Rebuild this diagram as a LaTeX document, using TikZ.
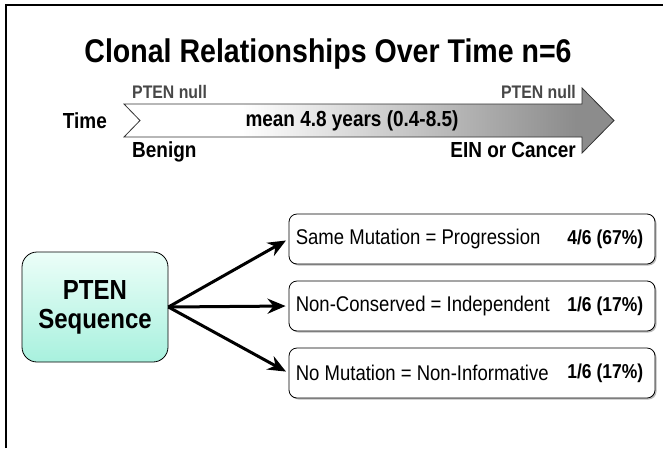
\documentclass[tikz,border=0pt]{standalone}
\usepackage{fontspec}
\setmainfont[FakeStretch=0.87]{Liberation Sans}
\usetikzlibrary{arrows.meta,positioning,shadows}

\pgfdeclarehorizontalshading{timefade}{100bp}{color(0bp)=(white); color(37bp)=(white); color(71bp)=(black!45); color(100bp)=(black!45)}

\tikzset{
  frameline/.style={line width=2.2pt},
  timetext/.style={font=\fontsize{21.8}{24}\selectfont\bfseries, inner sep=0pt},
  nulltext/.style={font=\fontsize{18.2}{20}\selectfont\bfseries, text=black!72, inner sep=0pt},
  resbox/.style={draw, line width=0.8pt, rounded corners=8pt, fill=white,
    minimum width=366pt, minimum height=50pt,
    drop shadow={shadow xshift=1.5pt, shadow yshift=-1.5pt, fill=black!45, opacity=.6}},
  restext/.style={font=\fontsize{21.3}{23}\selectfont, inner sep=0pt},
  resnum/.style={font=\fontsize{20.1}{22}\selectfont\bfseries, inner sep=0pt},
  fork/.style={line width=3pt, -{Stealth[length=18pt,width=15pt]}, shorten >=3pt}
}

\begin{document}
\begin{tikzpicture}[x=1pt,y=-1pt]
    \useasboundingbox (0,0) rectangle (663,448);
    \draw [frameline] (6,448) -- (6,5) -- (663,5);

    \node [font=\fontsize{32.8}{36}\selectfont\bfseries, anchor=base] (title) at (328,62) {Clonal Relationships Over Time n=6};

    % time arrow
    \path [draw=black!80, line width=0.8pt, shading=timefade]
      (124,104) -- (582,104) -- (582,88) -- (614,120.5) -- (582,153) -- (582,137) -- (124,137) -- (140,120.5) -- cycle;
    \node [timetext, anchor=east] (time) at (107,121) {Time};
    \node [timetext] (mean) at (352,121) {mean 4.8 years (0.4-8.5)};
    \node [nulltext, anchor=base west] (nullA) at (132,98) {PTEN null};
    \node [nulltext, anchor=base east] (nullB) at (576,98) {PTEN null};
    \node [timetext, anchor=base west] (benign) at (132,157) {Benign};
    \node [timetext, anchor=base east] (cancer) at (576,157) {EIN or Cancer};

    % sequence box
    \node [draw, line width=0.8pt, rounded corners=15pt, minimum width=146pt, minimum height=110pt,
      top color={rgb,255:red,236;green,254;blue,248}, bottom color={rgb,255:red,168;green,241;blue,222},
      font=\fontsize{27.6}{29}\selectfont\bfseries, align=center] (seq) at (95,307) {PTEN\\Sequence};

    % result boxes
    \node [resbox] (same) at (472,239) {};
    \node [resbox] (indep) at (472,306) {};
    \node [resbox] (none) at (472,373) {};

    \node [restext, anchor=west] at ([xshift=7pt]same.west) {Same Mutation = Progression};
    \node [resnum, anchor=east] at ([xshift=-12pt]same.east) {4/6 (67\%)};
    \node [restext, anchor=west] at ([xshift=7pt]indep.west) {Non-Conserved = Independent};
    \node [resnum, anchor=east] at ([xshift=-12pt]indep.east) {1/6 (17\%)};
    \node [restext, anchor=west] at ([xshift=7pt]none.west) {No Mutation = Non-Informative};
    \node [resnum, anchor=east] at ([xshift=-12pt]none.east) {1/6 (17\%)};

    \draw [fork] (seq.east) -- (same.west);
    \draw [fork] (seq.east) -- (indep.west);
    \draw [fork] (seq.east) -- (none.west);
\end{tikzpicture}
\end{document}
